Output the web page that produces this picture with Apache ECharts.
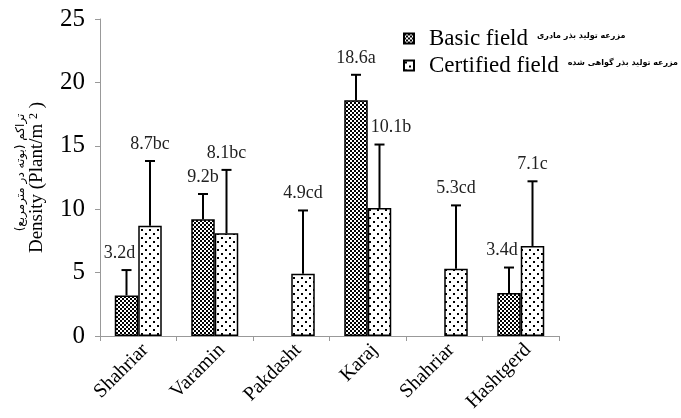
<!DOCTYPE html>
<html><head><meta charset="utf-8">
<script src="https://cdn.jsdelivr.net/npm/echarts@6/dist/echarts.min.js"></script>
<style>html,body{margin:0;padding:0;background:#fff}#c{width:681px;height:418px}</style>
</head><body><div id="c"></div>
<script>
const categories = ['Shahriar', 'Varamin', 'Pakdasht', 'Karaj', 'Shahriar', 'Hashtgerd'];
const basicValues = [3.2, 9.2, null, 18.6, null, 3.4];
const certifiedValues = [8.7, 8.1, 4.9, 10.1, 5.3, 7.1];
const basicErrors = [2.0, 2.0, null, 2.0, null, 2.0];
const certifiedErrors = [5.1, 5.0, 5.0, 5.0, 5.0, 5.1];
const basicLabels = ['3.2d', '9.2b', '', '18.6a', '', '3.4d'];
const certifiedLabels = ['8.7bc', '8.1bc', '4.9cd', '10.1b', '5.3cd', '7.1c'];
const yTicks = [0, 5, 10, 15, 20, 25];
const seriesNames = ['Basic field', 'Certified field'];
const seriesNamesFa = ['مزرعه تولید بذر مادری', 'مزرعه تولید بذر گواهی شده'];
const yTitleEn = 'Density (Plant/m ';
const yTitleFa = 'تراکم (بوته در مترمربع)';

const SERIF = '"Liberation Serif", "Times New Roman", serif';
const BAR_W = 23.5;
const LABEL_FONT = 18;

function makePattern(kind) {
  const c = document.createElement('canvas');
  const ctx = c.getContext('2d');
  if (kind === 'checker') {
    c.width = 4; c.height = 4;
    ctx.fillStyle = '#fff'; ctx.fillRect(0, 0, 4, 4);
    ctx.fillStyle = '#000'; ctx.fillRect(0, 0, 2, 2); ctx.fillRect(2, 2, 2, 2);
  } else {
    c.width = 8; c.height = 8;
    ctx.fillStyle = '#fff'; ctx.fillRect(0, 0, 8, 8);
    ctx.fillStyle = '#000'; ctx.fillRect(1, 1, 2, 2); ctx.fillRect(5, 5, 2, 2);
  }
  return { image: c, repeat: 'repeat' };
}

// side: -1 = left bar of the pair, +1 = right bar
function errSeries(values, errs, labels, neighbourValues, side) {
  const data = [];
  values.forEach((v, i) => { if (v != null) data.push([i, v + errs[i], v]); });
  return {
    type: 'custom',
    z: 5,
    clip: false,
    silent: true,
    encode: { x: 0, y: 1 },
    data: data,
    renderItem: function (params, api) {
      const idx = api.value(0);
      const top = api.coord([idx, api.value(1)]);
      const base = api.coord([idx, api.value(2)]);
      const centre = top[0];
      const cx = centre + side * BAR_W / 2;
      const ty = top[1] - 17;
      let tx = cx, align = 'center';
      const nv = neighbourValues[idx];
      if (nv != null) {
        const nTop = api.coord([idx, nv])[1];
        if (nTop < ty + LABEL_FONT / 2) {
          // the neighbouring bar reaches the label: move the label away from it
          align = side < 0 ? 'right' : 'left';
          tx = centre + side * 3;
        }
      }
      return {
        type: 'group',
        children: [
          { type: 'line', shape: { x1: cx, y1: base[1], x2: cx, y2: top[1] }, style: { stroke: '#000', lineWidth: 2 } },
          { type: 'line', shape: { x1: cx - 5, y1: top[1], x2: cx + 5, y2: top[1] }, style: { stroke: '#000', lineWidth: 2 } },
          { type: 'text', x: tx, y: ty, style: { text: labels[idx], font: LABEL_FONT + 'px ' + SERIF, fill: '#222', align: align, verticalAlign: 'middle' } }
        ]
      };
    }
  };
}

const chart = echarts.init(document.getElementById('c'), null, { renderer: 'canvas' });
const pats = [makePattern('checker'), makePattern('dots')];

chart.setOption({
  backgroundColor: '#fff',
  animation: false,
  grid: { left: 100, right: 122, top: 19, bottom: 82, containLabel: false },
  legend: {
    orient: 'vertical',
    left: 403,
    top: 27,
    padding: 0,
    itemWidth: 10,
    itemHeight: 10,
    itemGap: 4,
    icon: 'rect',
    data: seriesNames,
    formatter: function (name) {
      const i = seriesNames.indexOf(name);
      return '{en|' + name + '}{fa|' + seriesNamesFa[i] + '}';
    },
    textStyle: {
      rich: {
        en: { fontFamily: SERIF, fontSize: 23, color: '#000', lineHeight: 24, padding: [0, 9, 0, 10] },
        fa: { fontFamily: '"DejaVu Sans"', fontSize: 8, fontWeight: 'bold', color: '#000', verticalAlign: 'middle', lineHeight: 14, padding: [0, 0, 6, 0] }
      }
    }
  },
  xAxis: {
    type: 'category',
    data: categories,
    axisLine: { lineStyle: { color: '#999', width: 1 } },
    axisTick: { show: true, length: 5, lineStyle: { color: '#999' } },
    axisLabel: { rotate: 45, fontFamily: SERIF, fontSize: 20, color: '#000', margin: 4, interval: 0, verticalAlign: 'top' },
    splitLine: { show: false }
  },
  yAxis: {
    type: 'value',
    min: yTicks[0],
    max: yTicks[yTicks.length - 1],
    interval: yTicks[1] - yTicks[0],
    axisLine: { show: true, lineStyle: { color: '#999', width: 1 } },
    axisTick: { show: true, length: 5, lineStyle: { color: '#999' } },
    axisLabel: { fontFamily: SERIF, fontSize: 25, color: '#000', margin: 15 },
    splitLine: { show: false },
    name: '{fa|' + yTitleFa + '}\n{en|' + yTitleEn + '}{sup|2}{en| )}',
    nameLocation: 'middle',
    nameRotate: 90,
    nameGap: 53,
    nameTextStyle: {
      rich: {
        fa: { fontFamily: '"DejaVu Sans"', fontSize: 12, color: '#000', lineHeight: 14, padding: [0, 0, 0, 10] },
        en: { fontFamily: SERIF, fontSize: 19, color: '#000', lineHeight: 19 },
        sup: { fontFamily: SERIF, fontSize: 12, color: '#000', verticalAlign: 'top', lineHeight: 19 }
      }
    }
  },
  series: [
    {
      name: seriesNames[0], type: 'bar', data: basicValues, barWidth: BAR_W, barGap: '0%',
      itemStyle: { color: pats[0], borderColor: '#000', borderWidth: 1.5 }
    },
    {
      name: seriesNames[1], type: 'bar', data: certifiedValues, barWidth: BAR_W, barGap: '0%',
      itemStyle: { color: pats[1], borderColor: '#000', borderWidth: 1.5 }
    },
    errSeries(basicValues, basicErrors, basicLabels, certifiedValues, -1),
    errSeries(certifiedValues, certifiedErrors, certifiedLabels, basicValues, 1)
  ]
});
</script>
</body></html>
